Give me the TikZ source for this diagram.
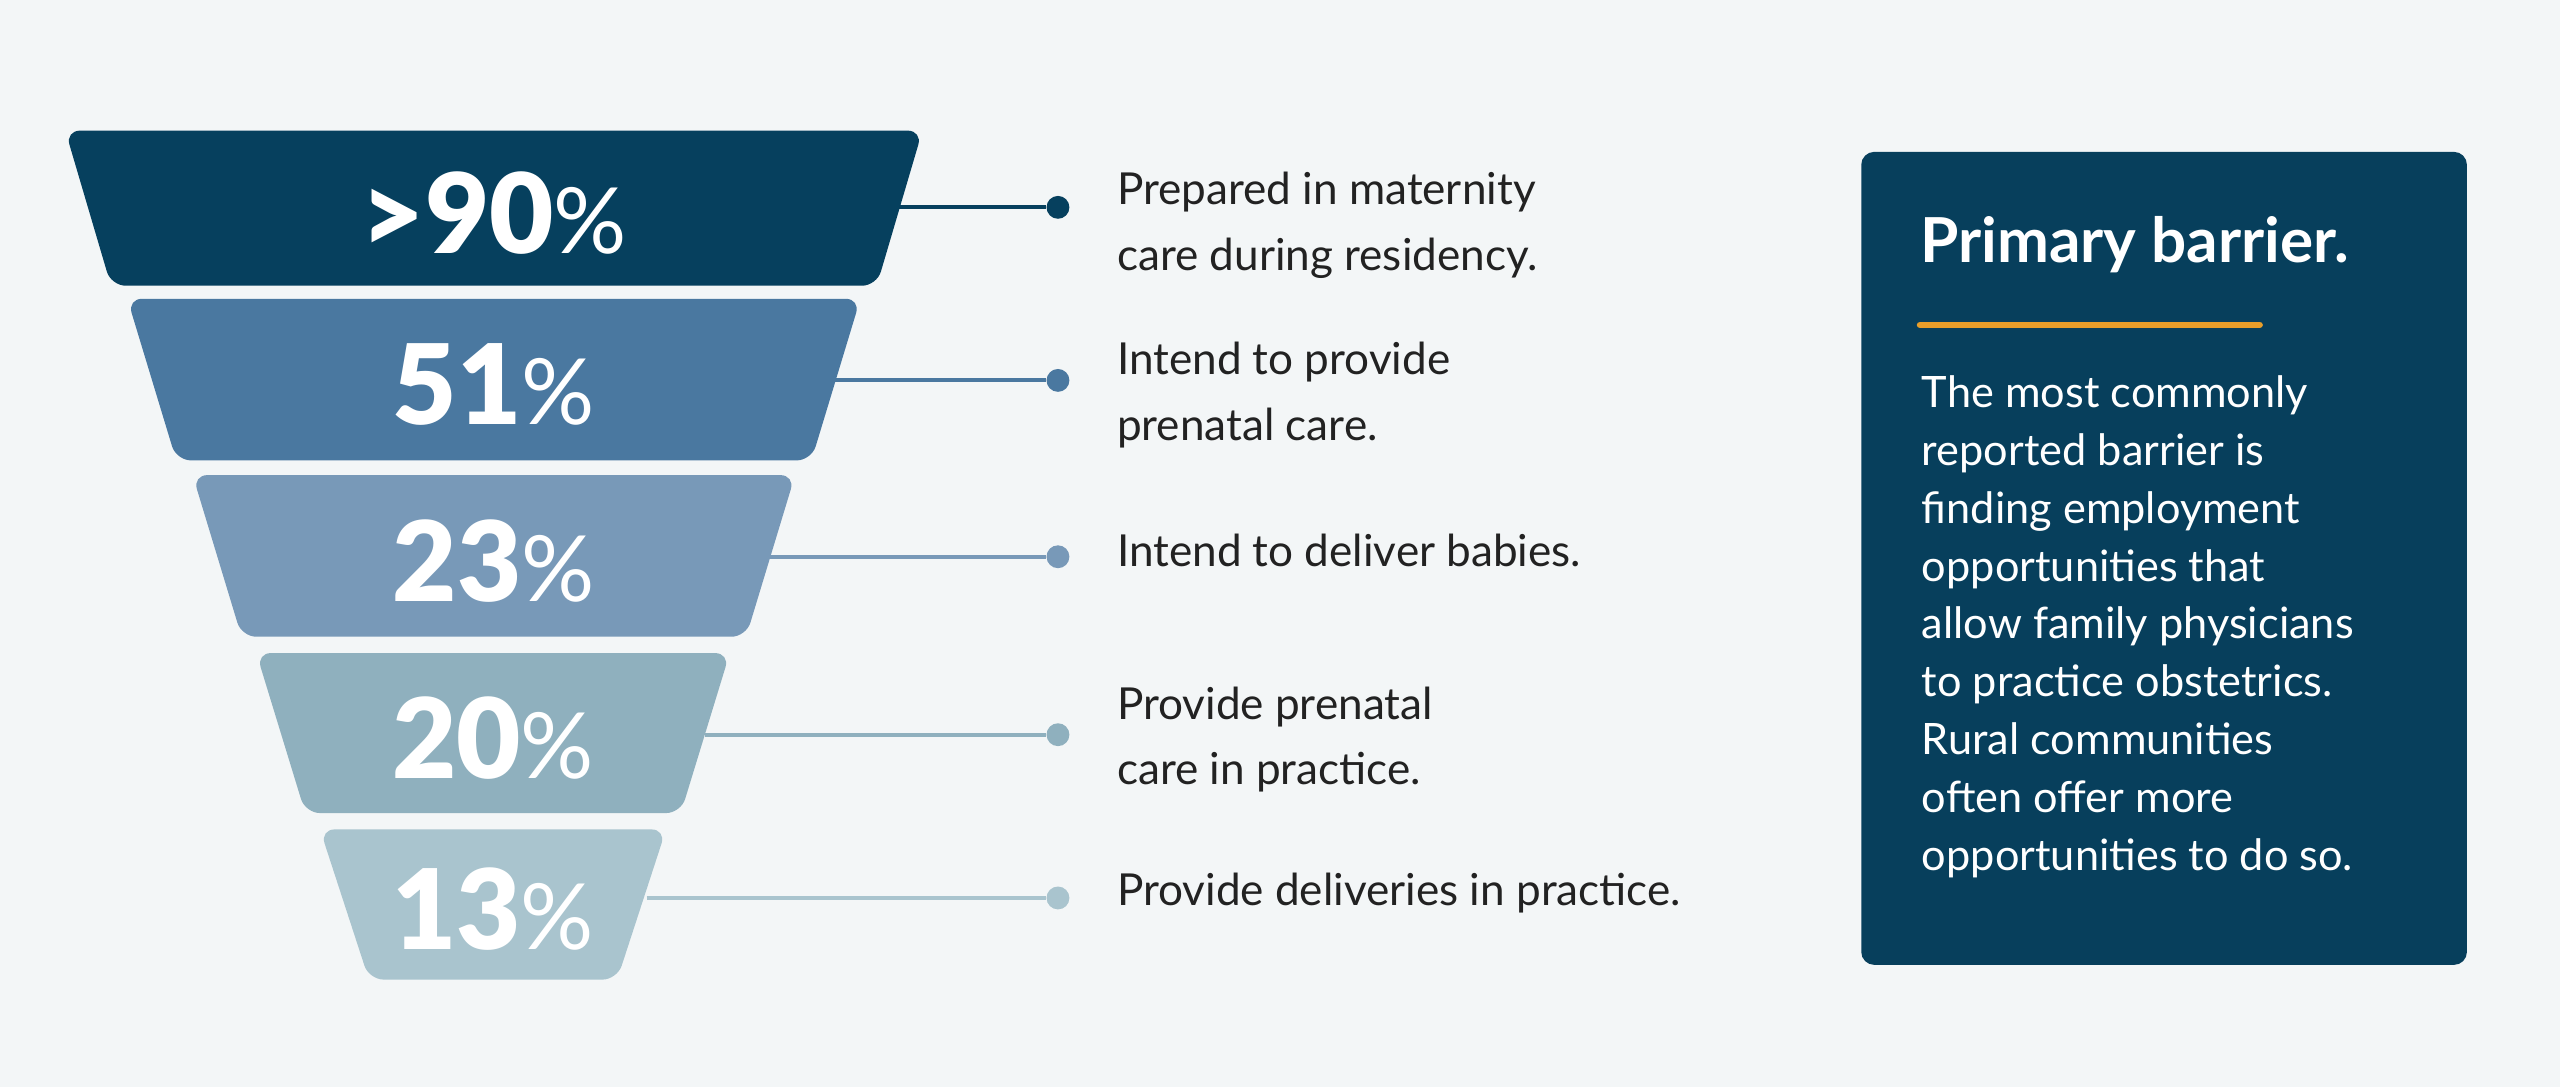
\documentclass[tikz,border=0pt]{standalone}
\usepackage{fontspec}
\setmainfont{Lato}
\newfontfamily\numfont{Lato Black}
\newfontfamily\pctfont{Lato}
\definecolor{bg}{HTML}{F3F6F7}
\definecolor{cA}{HTML}{06405E}
\definecolor{cB}{HTML}{4A78A0}
\definecolor{cC}{HTML}{7899B8}
\definecolor{cD}{HTML}{8FB0BE}
\definecolor{cE}{HTML}{A9C4CE}
\definecolor{boxc}{HTML}{073F5C}
\definecolor{orng}{HTML}{E89E2A}
\definecolor{txt}{HTML}{222222}
\begin{document}
\begin{tikzpicture}[x=1pt,y=-1pt,
  lbl/.style={anchor=west,align=left,text=txt,font=\fontsize{27}{40}\selectfont,inner sep=0},
  num/.style={text=white,font=\numfont\fontsize{68}{68}\selectfont,inner sep=0},
  dot/.style={circle,inner sep=0,minimum size=14pt}]
\fill[bg] (0,0) rectangle (1568,666);
\useasboundingbox (0,0) rectangle (1568,666);
\newcommand\tier[9]{%
  \fill[#9,rounded corners=9pt] (#3,#1) -- (#4,#1) -- (#6,#2) -- (#5,#2) -- cycle;
  \node[num] (n#7) at ({(#3+#4)/2},{(#1+#2)/2+3}) {#8{\pctfont\fontsize{56}{56}\selectfont\%}};
}
\tier{80}{175}{40}{565}{68}{537}{1}{>90}{cA}
\tier{183}{282}{78}{527}{108}{497}{2}{51}{cB}
\tier{291}{390}{118}{487}{148}{457}{3}{23}{cC}
\tier{400}{498}{157}{447}{187}{417}{4}{20}{cD}
\tier{508}{600}{196}{408}{226}{378}{5}{13}{cE}
\coordinate (s1) at (549,127); \coordinate (s2) at (510,233);
\coordinate (s3) at (471,341); \coordinate (s4) at (432,450);
\coordinate (s5) at (396,550);
\node[dot,fill=cA] (d1) at (648,127) {};
\node[dot,fill=cB] (d2) at (648,233) {};
\node[dot,fill=cC] (d3) at (648,341) {};
\node[dot,fill=cD] (d4) at (648,450) {};
\node[dot,fill=cE] (d5) at (648,550) {};
\draw[cA,line width=2.5pt] (s1) -- (d1);
\draw[cB,line width=2.5pt] (s2) -- (d2);
\draw[cC,line width=2.5pt] (s3) -- (d3);
\draw[cD,line width=2.5pt] (s4) -- (d4);
\draw[cE,line width=2.5pt] (s5) -- (d5);
\node[lbl] (t1) at (684,138) {Prepared in maternity\\care during residency.};
\node[lbl] (t2) at (684,242) {Intend to provide\\prenatal care.};
\node[lbl] (t3) at (684,337) {Intend to deliver babies.};
\node[lbl] (t4) at (684,453) {Provide prenatal\\care in practice.};
\node[lbl] (t5) at (684,547) {Provide deliveries in practice.};
\fill[boxc,rounded corners=8pt] (1140,93) rectangle (1511,591);
\node[anchor=west,text=white,font=\bfseries\fontsize{38}{40}\selectfont,inner sep=0] (ttl) at (1176,150) {Primary barrier.};
\draw[orng,line width=4pt,line cap=round] (1176,199) -- (1384,199);
\node[anchor=north west,align=left,text=white,inner sep=0,font=\fontsize{26.5}{35.4}\selectfont] (body) at (1177,230)
{The most commonly\\reported barrier is\\finding employment\\opportunities that\\allow family physicians\\to practice obstetrics.\\Rural communities\\often offer more\\opportunities to do so.};
\end{tikzpicture}
\end{document}
